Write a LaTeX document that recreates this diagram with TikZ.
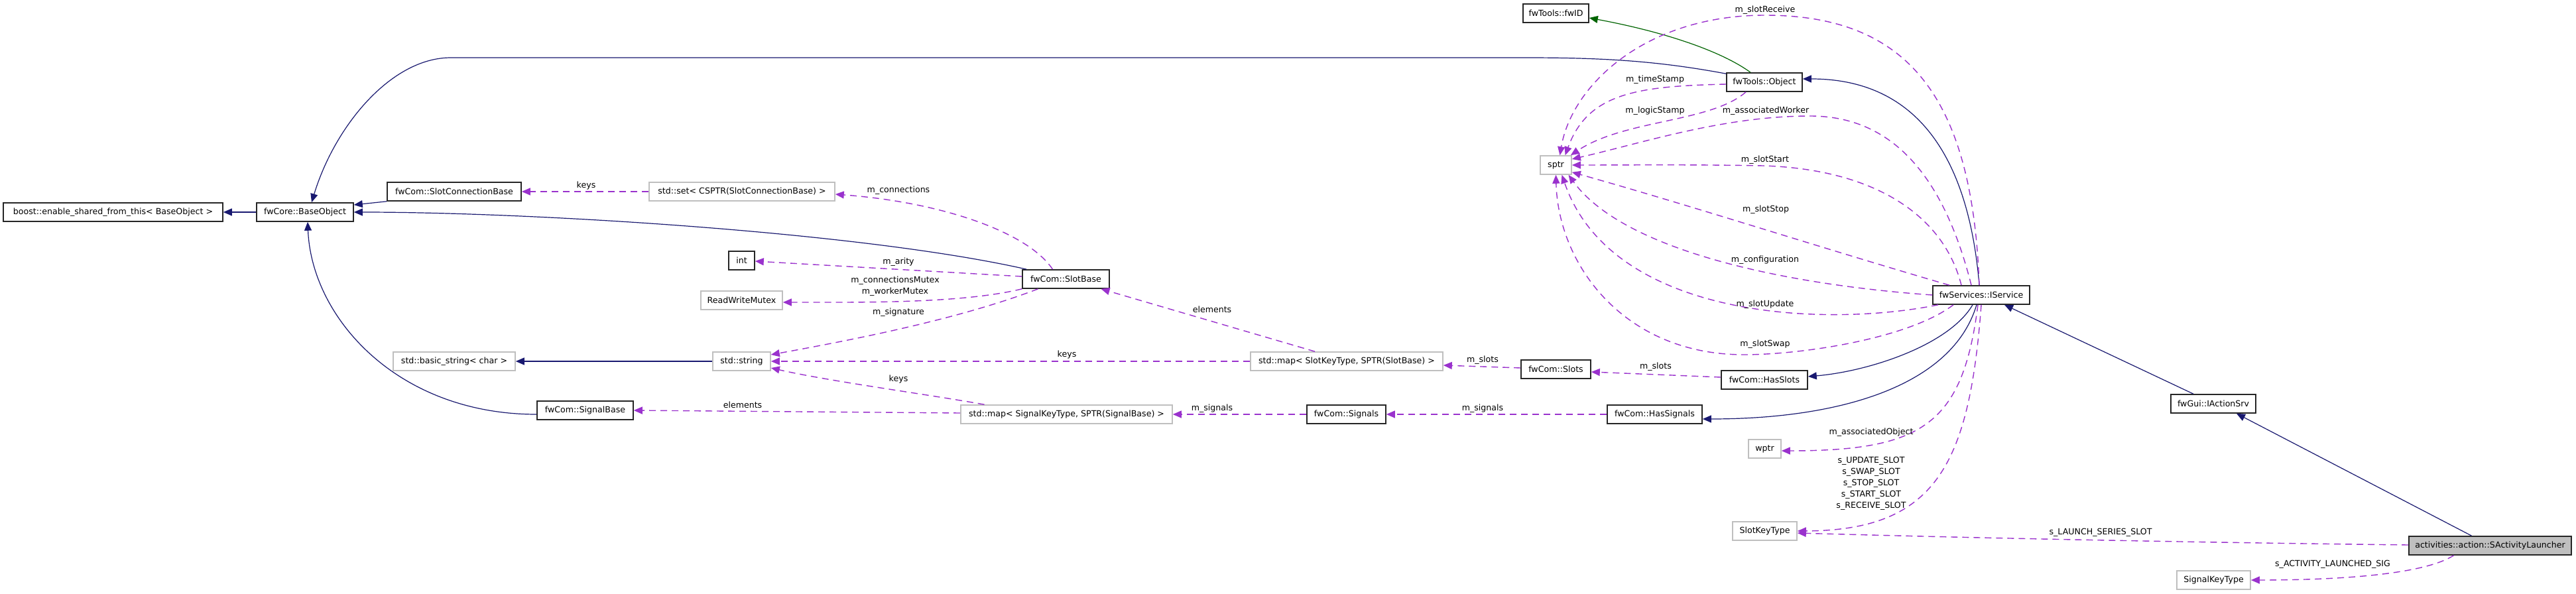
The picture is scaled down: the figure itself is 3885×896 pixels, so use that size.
\documentclass[tikz,border=0pt]{standalone}
\usepackage{fontspec}
\setmainfont{DejaVu Sans}
\usetikzlibrary{arrows.meta,calc}
\definecolor{inhblue}{HTML}{191970}
\definecolor{usepurple}{HTML}{9A32CD}
\definecolor{inhgreen}{HTML}{006400}
\definecolor{boxgray}{HTML}{BFBFBF}
\begin{document}
\begin{tikzpicture}[x=1pt,y=-1pt,
  every node/.style={font=\fontsize{12.6}{17}\selectfont, inner sep=0pt},
  cls/.style={draw=black!85, line width=1.6pt, fill=white, minimum height=28pt},
  ext/.style={draw=boxgray, line width=1.6pt, fill=white, minimum height=28pt},
  inh/.style={draw=inhblue, line width=1.2pt, -{Triangle[length=13pt,width=11pt]}},
  inhg/.style={draw=inhgreen, line width=1.2pt, -{Triangle[length=13pt,width=11pt]}},
  use/.style={draw=usepurple, line width=1.4pt, dash pattern=on 10pt off 7pt, -{Triangle[length=13pt,width=11pt]}},
  lbl/.style={align=center}
]
\useasboundingbox (0,0) rectangle (3885,896);
\fill[white] (0,0) rectangle (3885,896);

% nodes
\node[cls, minimum width=331pt] (boost) at (170.5,320) {boost::enable\_shared\_from\_this< BaseObject >};
\node[cls, minimum width=146pt] (base) at (460,320) {fwCore::BaseObject};
\node[cls, minimum width=202pt] (scb) at (685,289) {fwCom::SlotConnectionBase};
\node[ext, minimum width=280pt] (set) at (1119,289) {std::set< CSPTR(SlotConnectionBase) >};
\node[cls, minimum width=39pt] (int) at (1118.5,393) {int};
\node[ext, minimum width=123pt] (rwm) at (1118.5,453) {ReadWriteMutex};
\node[ext, minimum width=184pt] (bstr) at (685,545) {std::basic\_string< char >};
\node[ext, minimum width=87pt] (str) at (1118.5,545) {std::string};
\node[cls, minimum width=145pt] (sigbase) at (882.5,619) {fwCom::SignalBase};
\node[cls, minimum width=131pt] (slotbase) at (1607.5,421) {fwCom::SlotBase};
\node[ext, minimum width=290pt] (slotmap) at (2031,545) {std::map< SlotKeyType, SPTR(SlotBase) >};
\node[ext, minimum width=319pt] (sigmap) at (1608.5,625) {std::map< SignalKeyType, SPTR(SignalBase) >};
\node[cls, minimum width=119pt] (signals) at (2030.5,625) {fwCom::Signals};
\node[cls, minimum width=105pt] (slots) at (2346.5,557) {fwCom::Slots};
\node[cls, minimum width=130pt] (hasslots) at (2661,573) {fwCom::HasSlots};
\node[cls, minimum width=143pt] (hassignals) at (2495.5,625) {fwCom::HasSignals};
\node[cls, minimum width=99pt] (fwid) at (2346.5,20) {fwTools::fwID};
\node[cls, minimum width=114pt] (object) at (2661,124) {fwTools::Object};
\node[ext, minimum width=47pt] (sptr) at (2346.5,249) {sptr};
\node[cls, minimum width=146pt] (iservice) at (2988,445) {fwServices::IService};
\node[cls, minimum width=128pt] (iaction) at (3338,609) {fwGui::IActionSrv};
\node[cls, fill=boxgray, minimum width=245pt] (launcher) at (3755.5,823) {activities::action::SActivityLauncher};
\node[ext, minimum width=111pt] (sigkey) at (3338.5,875) {SignalKeyType};
\node[ext, minimum width=97pt] (slotkey) at (2661.5,801) {SlotKeyType};
\node[ext, minimum width=49pt] (wptr) at (2661.5,677) {wptr};

% inheritance
\draw[inh] (base.west) -- (boost.east);
\draw[inh] (scb.south west) -- ([yshift=11pt]base.east);
\draw[inh] ([xshift=7pt]slotbase.north west) .. controls (1300,350) and (800,320) .. (base.east);
\draw[inh] ([yshift=-2pt]object.north west) .. controls (2500,92) and (2420,87) .. (2300,87) -- (680,87) .. controls (590,87) and (505,190) .. ([xshift=10pt]base.north);
\draw[inh] ([yshift=-6pt]sigbase.west) .. controls (600,625) and (470,480) .. ([xshift=4pt]base.south);
\draw[inh] (str.west) -- (bstr.east);
\draw[inh] ([xshift=-13pt]iservice.south) .. controls (2940,520) and (2820,560) .. ([yshift=5pt]hasslots.east);
\draw[inh] ([xshift=-7pt]iservice.south) .. controls (2945,580) and (2780,632) .. ([yshift=-7pt]hassignals.east);
\draw[inh] ([xshift=-3pt]iservice.north) .. controls (2970,250) and (2900,119) .. ([yshift=5pt]object.east);
\draw[inh] ([xshift=-30pt]iaction.north) -- ([xshift=35pt]iservice.south);
\draw[inh] ([xshift=-28pt]launcher.north) -- ([xshift=35pt]iaction.south);
\draw[inhg] ([xshift=-21pt]object.north) .. controls (2600,80) and (2520,50) .. ([yshift=-7pt]fwid.east);

% usage
\draw[use] (set.west) -- (scb.east);
\draw[use] ([xshift=-20pt]slotbase.north) .. controls (1550,350) and (1420,305) .. ([yshift=-4pt]set.east);
\draw[use] ([yshift=4pt]slotbase.west) -- ([yshift=-1pt]int.east);
\draw[use] (slotbase.south west) .. controls (1450,458) and (1300,456) .. ([yshift=-3pt]rwm.east);
\draw[use] ([xshift=-42pt]slotbase.south) .. controls (1450,480) and (1300,510) .. ([yshift=10pt]str.east);
\draw[use] ([xshift=-48pt]slotmap.north) -- ([xshift=53pt]slotbase.south);
\draw[use] (slotmap.west) -- (str.east);
\draw[use] ([xshift=-124pt]sigmap.north) .. controls (1400,595) and (1250,575) .. ([yshift=-10pt]str.east);
\draw[use] ([yshift=2pt]sigmap.west) -- (sigbase.east);
\draw[use] ([yshift=2pt]slots.west) -- ([yshift=-6pt]slotmap.east);
\draw[use] (signals.west) -- (sigmap.east);
\draw[use] (hassignals.west) -- (signals.east);
\draw[use] ([yshift=4pt]hasslots.west) -- ([yshift=-4pt]slots.east);
\draw[use] ([yshift=-3pt]object.west) .. controls (2470,130) and (2395,140) .. ([xshift=14pt]sptr.north);
\draw[use] ([xshift=-28pt]object.south) .. controls (2580,185) and (2450,180) .. ([xshift=-2pt]sptr.north east);
\draw[use] ([xshift=-3pt]iservice.north) .. controls (2975,150) and (2880,23) .. (2662,23) .. controls (2480,23) and (2370,130) .. ([xshift=6pt]sptr.north);
\draw[use] ([xshift=-15pt]iservice.north) .. controls (2930,260) and (2850,175) .. (2730,175) .. controls (2600,175) and (2480,215) .. ([yshift=9pt]sptr.east);
\draw[use] ([xshift=-30pt]iservice.north) .. controls (2930,320) and (2820,255) .. (2659,250) .. controls (2550,248) and (2450,249) .. (sptr.east);
\draw[use] ([xshift=-48pt]iservice.north) .. controls (2750,375) and (2550,310) .. ([yshift=4pt]sptr.south east);
\draw[use] (iservice.west) .. controls (2700,430) and (2450,380) .. ([xshift=19pt]sptr.south);
\draw[use] ([xshift=-65pt]iservice.south) .. controls (2750,495) and (2430,480) .. ([xshift=9pt]sptr.south);
\draw[use] ([xshift=-42pt]iservice.south) .. controls (2880,510) and (2720,535) .. (2630,535) .. controls (2450,535) and (2350,400) .. (sptr.south);
\draw[use] ([xshift=-5pt]iservice.south) .. controls (2960,640) and (2900,680) .. ([yshift=-3pt]wptr.east);
\draw[use] (iservice.south) .. controls (2970,700) and (2920,800) .. (slotkey.east);
\draw[use] ([yshift=1pt]launcher.west) .. controls (3200,817) and (2850,808) .. ([yshift=-3pt]slotkey.east);
\draw[use] ([xshift=-55pt]launcher.south) .. controls (3650,870) and (3500,875) .. (sigkey.east);

% labels
\node[lbl] (l01) at (884,280) {keys};
\node[lbl] (l02) at (1355,287) {m\_connections};
\node[lbl] (l03) at (1355,395) {m\_arity};
\node[lbl] (l04) at (1350,432) {m\_connectionsMutex\\m\_workerMutex};
\node[lbl] (l05) at (1355,471) {m\_signature};
\node[lbl] (l06) at (1828,467) {elements};
\node[lbl] (l07) at (1609,535) {keys};
\node[lbl] (l08) at (1355,572) {keys};
\node[lbl] (l09) at (1120,611) {elements};
\node[lbl] (l10) at (1828,616) {m\_signals};
\node[lbl] (l11) at (2236,543) {m\_slots};
\node[lbl] (l12) at (2236,616) {m\_signals};
\node[lbl] (l13) at (2497,553) {m\_slots};
\node[lbl] (l14) at (2662,15) {m\_slotReceive};
\node[lbl] (l15) at (2496,120) {m\_timeStamp};
\node[lbl] (l16) at (2496,167) {m\_logicStamp};
\node[lbl] (l17) at (2663,167) {m\_associatedWorker};
\node[lbl] (l18) at (2662,241) {m\_slotStart};
\node[lbl] (l19) at (2663,316) {m\_slotStop};
\node[lbl] (l20) at (2662,392) {m\_configuration};
\node[lbl] (l21) at (2662,459) {m\_slotUpdate};
\node[lbl] (l22) at (2662,519) {m\_slotSwap};
\node[lbl] (l23) at (2822,652) {m\_associatedObject};
\node[lbl] (l24) at (2822,729.5) {s\_UPDATE\_SLOT\\s\_SWAP\_SLOT\\s\_STOP\_SLOT\\s\_START\_SLOT\\s\_RECEIVE\_SLOT};
\node[lbl] (l25) at (3168,803) {s\_LAUNCH\_SERIES\_SLOT};
\node[lbl] (l26) at (3518,851) {s\_ACTIVITY\_LAUNCHED\_SIG};
\end{tikzpicture}
\end{document}
